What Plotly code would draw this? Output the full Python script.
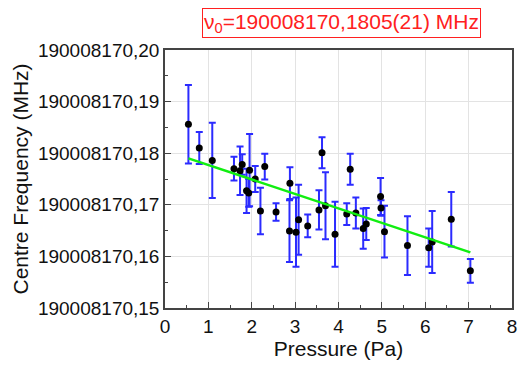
import plotly.graph_objects as go

BASE = 190008170.0

pressure = [0.54, 0.79, 1.09, 1.59, 1.73, 1.78, 1.88, 1.93, 1.95, 2.08, 2.20, 2.30,
            2.56, 2.88, 2.87, 3.02, 3.08, 3.29, 3.55, 3.62, 3.70, 3.92, 4.19, 4.27,
            4.40, 4.57, 4.64, 4.97, 4.98, 5.06, 5.59, 6.08, 6.16, 6.60, 7.04]
freq_offset = [0.1856, 0.1810, 0.1786, 0.1770, 0.1766, 0.1778, 0.1727, 0.1723, 0.1767, 0.1750,
               0.1688, 0.1774, 0.1686, 0.1742, 0.1649, 0.1647, 0.1671, 0.1659, 0.1690, 0.1801,
               0.1698, 0.1643, 0.1682, 0.1769, 0.1684, 0.1654, 0.1663, 0.1716, 0.1694, 0.1648,
               0.1621, 0.1617, 0.1628, 0.1672, 0.1572]
freq_err = [0.0076, 0.0031, 0.0073, 0.0023, 0.0047, 0.0020, 0.0043, 0.0027, 0.0070, 0.0025,
            0.0045, 0.0025, 0.0017, 0.0031, 0.0060, 0.0067, 0.0068, 0.0022, 0.0038, 0.0030,
            0.0065, 0.0063, 0.0021, 0.0030, 0.0030, 0.0039, 0.0031, 0.0036, 0.0015, 0.0050,
            0.0057, 0.0037, 0.0060, 0.0053, 0.0023]

fit_x = [0.54, 7.04]
fit_offset = [0.17899, 0.16079]

y_ticks_offset = [0.15, 0.16, 0.17, 0.18, 0.19, 0.20]
y_tick_labels = ["190008170,15", "190008170,16", "190008170,17",
                 "190008170,18", "190008170,19", "190008170,20"]

freq = [BASE + v for v in freq_offset]
fit_y = [BASE + v for v in fit_offset]
y_tickvals = [BASE + v for v in y_ticks_offset]

fig = go.Figure()
fig.add_trace(go.Scatter(
    x=pressure, y=freq, mode="markers",
    marker=dict(color="black", size=7),
    error_y=dict(type="data", array=freq_err, visible=True,
                 color="#2b2bff", thickness=2, width=3.5),
    showlegend=False,
))
fig.add_trace(go.Scatter(
    x=fit_x, y=fit_y, mode="lines",
    line=dict(color="#11ee11", width=2.5),
    showlegend=False,
))

font_family = "Liberation Sans, Arial, sans-serif"
axis_common = dict(
    showline=True, linecolor="#444444", linewidth=1.5, mirror=True,
    ticks="inside", ticklen=6, tickcolor="#444444", tickwidth=1,
    showgrid=True, gridcolor="#e3e3e3", gridwidth=1, zeroline=False,
    tickfont=dict(family=font_family, size=19, color="#111111"),
    automargin=False,
)

fig.update_xaxes(
    range=[0, 8], tick0=0, dtick=1,
    minor=dict(ticks="inside", ticklen=3, dtick=0.5, tick0=0, tickcolor="#444444", showgrid=False),
    title=dict(text="Pressure (Pa)", font=dict(family=font_family, size=21, color="#111111"), standoff=1),
    **axis_common,
)
fig.update_yaxes(
    range=[y_tickvals[0], y_tickvals[-1]],
    tickmode="array", tickvals=y_tickvals, ticktext=y_tick_labels,
    minor=dict(ticks="inside", ticklen=3, dtick=0.005, tick0=y_tickvals[0], tickcolor="#444444", showgrid=False),
    title=dict(text="Centre Frequency (MHz)", font=dict(family=font_family, size=21, color="#111111"), standoff=4),
    **axis_common,
)

fig.add_annotation(
    xref="paper", yref="paper", x=0.51, y=1.105,
    xanchor="center", yanchor="middle",
    text="ν<sub>0</sub>=190008170,1805(21) MHz",
    showarrow=False,
    font=dict(family=font_family, size=21, color="#ff2020"),
    bordercolor="#ff2020", borderwidth=1, borderpad=1,
    bgcolor="white",
)

fig.update_layout(
    width=519, height=365,
    margin=dict(l=165, r=7, t=50, b=57),
    paper_bgcolor="white", plot_bgcolor="white",
    font=dict(family=font_family),
)

fig.write_html("out.html", config={"displayModeBar": False},
               post_script="document.body.style.margin='0';document.body.style.overflow='hidden';")
